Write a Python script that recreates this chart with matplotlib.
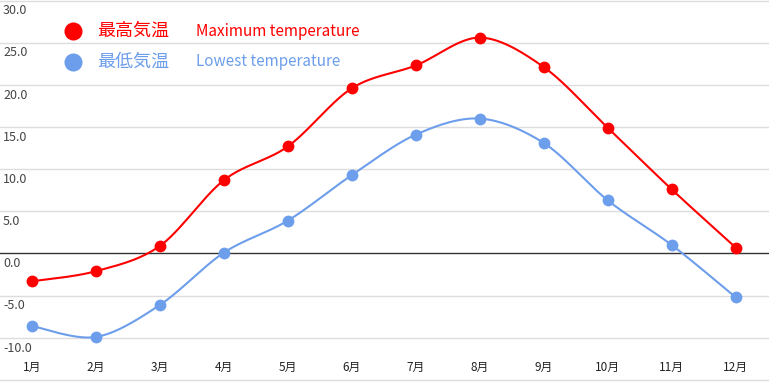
import numpy as np
import matplotlib.pyplot as plt

plt.rcParams['font.family'] = ['Noto Sans CJK JP', 'DejaVu Sans']

# datos: temperatura mensual
meses = ['1月', '2月', '3月', '4月', '5月', '6月', '7月', '8月', '9月', '10月', '11月', '12月']
t_max = [-3.3, -2.1, 0.9, 8.7, 12.7, 19.6, 22.3, 25.6, 22.1, 14.9, 7.6, 0.7]
t_min = [-8.6, -9.9, -6.1, 0.1, 3.9, 9.3, 14.1, 16.0, 13.1, 6.3, 1.0, -5.2]
y_ticks = [-10, -5, 0, 5, 10, 15, 20, 25, 30]

ROJO = '#ff0000'
AZUL = '#6d9eeb'


def suavizar(x, y, t=0.16, n=30):
    # curva bezier entre puntos (como curveType 'function')
    x = np.asarray(x, float)
    y = np.asarray(y, float)
    xs, ys = [], []
    for i in range(len(x) - 1):
        i0 = max(i - 1, 0)
        i3 = min(i + 2, len(x) - 1)
        p0 = np.array([x[i], y[i]])
        p3 = np.array([x[i + 1], y[i + 1]])
        c1 = p0 + t * np.array([x[i + 1] - x[i0], y[i + 1] - y[i0]])
        c2 = p3 - t * np.array([x[i3] - x[i], y[i3] - y[i]])
        s = np.linspace(0, 1, n)[:, None]
        b = (1 - s)**3 * p0 + 3 * (1 - s)**2 * s * c1 + 3 * (1 - s) * s**2 * c2 + s**3 * p3
        xs.append(b[:, 0])
        ys.append(b[:, 1])
    return np.concatenate(xs), np.concatenate(ys)


x = np.arange(1, len(meses) + 1)

fig = plt.figure(figsize=(7.69, 3.82), dpi=100)
ax = fig.add_axes([0, 0, 1, 1])
ax.set_xlim(0.5, 12.52)
ax.set_ylim(-15.24, 30.06)
ax.axis('off')

# grilla
for v in range(-15, 31, 5):
    if v == 0:
        ax.axhline(v, color='#333333', lw=1, zorder=1)
    else:
        ax.axhline(v, color='#dddddd', lw=1, zorder=0)

for v in y_ticks:
    ax.text(0.004, v - 0.45, f'{v:.1f}', transform=ax.get_yaxis_transform(),
            ha='left', va='top', fontsize=9, color='#444444')

for xi, m in zip(x, meses):
    ax.text(xi, 0.037, m, transform=ax.get_xaxis_transform(),
            ha='center', va='center', fontsize=8.5, color='#222222')

for serie, col in [(t_min, AZUL), (t_max, ROJO)]:
    xs, ys = suavizar(x, serie)
    ax.plot(xs, ys, color=col, lw=1.5, zorder=3)
    ax.plot(x, serie, 'o', color=col, ms=8.5, mec='none', zorder=4)

# leyenda
ax.plot([73 / 769], [1 - 31 / 382], 'o', color=ROJO, ms=13, mec='none',
        transform=ax.transAxes, clip_on=False)
ax.plot([73 / 769], [1 - 62 / 382], 'o', color=AZUL, ms=13, mec='none',
        transform=ax.transAxes, clip_on=False)
ax.text(97 / 769, 1 - 31 / 382, '最高気温', transform=ax.transAxes, color=ROJO,
        fontsize=13, va='center', ha='left')
ax.text(97 / 769, 1 - 62 / 382, '最低気温', transform=ax.transAxes, color=AZUL,
        fontsize=13, va='center', ha='left')
ax.text(196 / 769, 1 - 31 / 382, 'Maximum temperature', transform=ax.transAxes,
        color=ROJO, fontsize=11, va='center', ha='left')
ax.text(196 / 769, 1 - 62 / 382, 'Lowest temperature', transform=ax.transAxes,
        color=AZUL, fontsize=11, va='center', ha='left')

plt.savefig('out.png', dpi=100)
